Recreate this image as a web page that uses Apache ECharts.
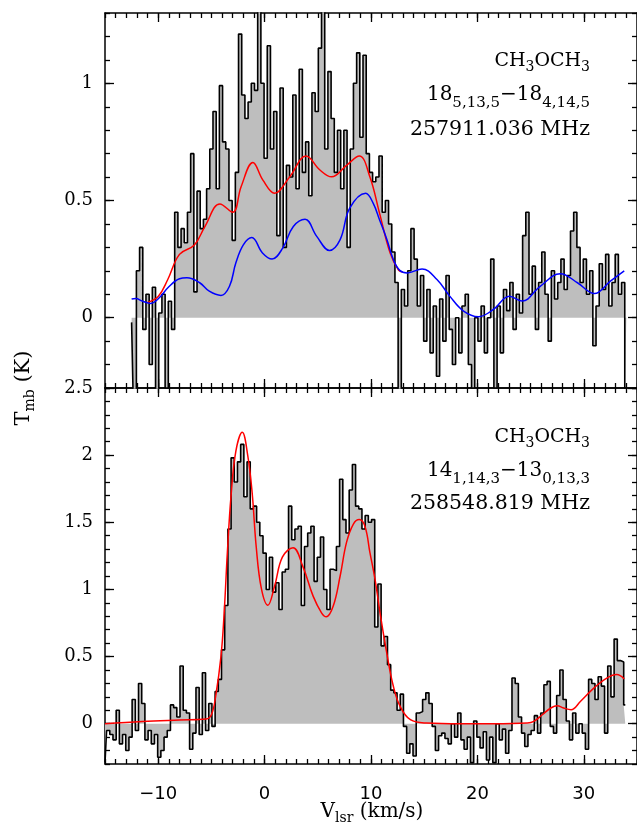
<!DOCTYPE html>
<html><head><meta charset="utf-8">
<script src="https://cdn.jsdelivr.net/npm/echarts@6/dist/echarts.min.js"></script>
<style>html,body{margin:0;padding:0;background:#fff}#c{width:637px;height:823px}</style>
</head><body><div id="c"></div>
<script>
// ---- tick labels ----
const xTickLabels = [-10, 0, 10, 20, 30];
const topYTickLabels = [0, 0.5, 1];
const botYTickLabels = [0, 0.5, 1, 1.5, 2, 2.5];

// ---- channel grid of the spectra (km/s) ----
const topV0 = -12.5;
const botV0 = -15.0;
const chanWidth = 0.3;

// ---- top spectrum: CH3OCH3 18(5,13,5)-18(4,14,5), Tmb (K) ----
const topSpec = [
 -0.02,-0.35,0.20,0.30,-0.05,0.10,-0.20,0.13,-0.32,0.02,
 0.10,-0.30,0.07,-0.05,0.45,0.30,0.38,0.32,0.45,0.70,
 0.11,0.54,0.38,0.42,0.55,0.72,0.88,0.55,0.99,0.75,
 0.72,0.50,0.33,0.62,1.21,0.95,0.85,0.92,1.00,0.97,
 1.35,1.00,0.68,1.16,0.72,0.88,0.35,0.98,0.30,0.65,
 0.60,0.95,0.55,1.06,0.62,0.75,0.52,0.96,0.88,1.15,
 1.35,0.72,1.05,0.85,0.62,0.80,0.55,0.80,0.30,0.72,
 1.00,1.13,0.77,1.12,0.70,0.62,0.58,0.60,0.69,0.45,
 0.50,0.40,0.28,0.15,-0.35,0.12,0.05,0.20,0.38,0.25,
 0.05,0.18,-0.10,0.12,-0.15,0.05,-0.25,0.08,-0.10,0.18,
 -0.05,-0.20,0.00,-0.15,0.05,0.10,-0.20,-0.30,0.00,-0.10,
 0.05,-0.15,0.00,0.25,-0.30,0.05,-0.15,0.12,0.03,0.15,
 -0.05,0.10,0.02,0.35,0.45,0.10,0.22,-0.05,0.15,0.28,
 0.10,-0.10,0.20,0.08,0.15,0.25,0.12,0.18,0.37,0.45,
 0.30,0.15,0.25,0.10,0.20,-0.12,0.05,0.23,0.12,0.27,
 0.05,0.15,0.27,0.10,0.15,-0.32
];

// ---- bottom spectrum: CH3OCH3 14(1,14,3)-13(0,13,3), Tmb (K) ----
const botSpec = [
 -0.29,-0.05,-0.08,-0.12,0.10,-0.15,-0.08,-0.20,-0.10,0.18,
 -0.05,0.30,0.15,-0.12,-0.05,-0.15,-0.08,-0.25,-0.20,-0.10,
 -0.05,0.14,0.12,0.05,0.43,0.10,0.08,-0.19,-0.07,0.27,
 -0.08,0.38,-0.05,0.15,-0.02,0.24,0.33,0.55,0.88,1.45,
 1.98,1.80,1.95,2.08,1.69,1.95,1.60,1.62,1.50,1.40,
 1.27,1.00,1.24,0.98,1.05,0.85,1.13,1.15,1.62,1.37,
 1.45,1.47,0.88,1.32,1.42,1.47,1.06,1.24,1.39,1.00,
 0.85,1.15,1.14,1.32,1.82,1.52,1.42,1.74,1.93,1.62,
 1.60,1.45,1.55,1.50,1.52,0.72,1.04,0.58,0.65,0.44,
 0.25,0.23,0.10,0.22,-0.02,-0.22,-0.15,-0.24,0.08,0.09,
 0.18,0.23,0.15,-0.02,-0.20,-0.09,-0.07,-0.11,-0.15,0.00,
 -0.10,0.08,-0.12,-0.19,-0.10,-0.29,0.02,-0.10,-0.18,-0.06,
 -0.27,-0.10,-0.29,0.00,-0.12,-0.04,-0.22,-0.05,0.34,0.30,
 0.05,-0.07,-0.17,-0.08,-0.05,0.06,-0.07,0.08,0.29,0.315,
 -0.02,-0.07,0.21,0.40,0.18,0.02,-0.12,0.08,-0.07,0.00,
 -0.07,-0.19,0.33,0.30,0.18,0.35,0.28,-0.07,0.43,0.20,
 0.63,0.47,0.46,0.14
];

// ---- model curves (velocity km/s, Tmb K) ----
const topBlueV = [-12.5,-12.1,-11.5,-10.7,-9.9,-9.0,-8.0,-7.3,-6.1,-5.2,-4.1,-3.3,-2.7,-2.0,-1.2,-0.2,0.7,1.7,2.7,3.8,4.9,6.1,7.1,8.0,9.5,10.2,10.8,11.5,12.1,12.7,13.4,14.8,16.2,17.4,18.7,20.1,21.5,23.0,24.2,25.9,27.8,29.4,31.0,32.5,33.8];
const topBlueT = [0.080,0.082,0.071,0.061,0.085,0.132,0.166,0.170,0.149,0.113,0.095,0.134,0.234,0.311,0.342,0.276,0.250,0.297,0.389,0.420,0.347,0.287,0.333,0.467,0.531,0.489,0.418,0.333,0.248,0.202,0.191,0.208,0.163,0.092,0.028,0.004,0.035,0.092,0.071,0.134,0.188,0.149,0.103,0.156,0.200];

const topRedV = [-11.0,-10.0,-9.1,-8.0,-6.6,-5.6,-4.2,-3.0,-2.2,-1.1,-0.16,0.94,2.35,3.9,5.2,6.3,7.7,8.9,9.9,10.8,11.8,12.6,13.0];
const topRedT = [0.065,0.090,0.163,0.270,0.310,0.390,0.485,0.450,0.560,0.662,0.587,0.531,0.600,0.690,0.630,0.601,0.650,0.690,0.600,0.446,0.276,0.202,0.195];

const botRedV = [-15.0,-11.5,-8.0,-5.5,-5.0,-4.6,-4.1,-3.8,-3.5,-3.15,-2.7,-2.1,-1.58,-1.17,-0.79,-0.31,0.31,0.94,1.67,2.67,3.6,4.56,5.35,5.8,6.45,7.1,7.7,8.33,8.9,9.43,9.9,10.38,10.85,11.48,12.1,12.74,13.7,15.2,18.4,21.5,24.7,25.3,26.1,26.9,27.5,28.1,28.8,29.7,30.97,32.2,33.1,33.8];
const botRedT = [0.0,0.017,0.028,0.035,0.067,0.204,0.502,0.826,1.274,1.70,2.03,2.17,1.995,1.72,1.32,1.01,0.883,1.025,1.24,1.31,1.17,0.95,0.826,0.796,0.876,1.10,1.35,1.485,1.52,1.47,1.274,1.075,0.826,0.527,0.279,0.129,0.03,0.005,0.0,0.0,0.005,0.017,0.067,0.117,0.134,0.117,0.104,0.167,0.267,0.341,0.366,0.333];

// ---- build ----
const spec = (v0, arr) => arr.map((t, i) => [+(v0 + i * chanWidth).toFixed(3), t]);
const pairs = (vs, ts) => vs.map((v, i) => [v, ts[i]]);

const X_MIN = -15, X_MAX = 35;
const yRanges = [[-0.3, 1.3], [-0.3, 2.5]];
const BLACK = '#000';
const minusFmt = v => (v < 0 ? '\u2212' + (-v) : String(v));
const LINE = { show: true, onZero: false, lineStyle: { color: BLACK, width: 1.5 } };
const NOLINE = { show: false, onZero: false };
const minorTick = { show: true, inside: true, length: 5, lineStyle: { color: BLACK, width: 1.3 } };
const majorTick = (vals) => ({ show: true, inside: true, length: 9, customValues: vals, lineStyle: { color: BLACK, width: 1.3 } });

const xAxes = [], yAxes = [];
// main axes first (series axes): x0, x1 / y0, y1
for (let g = 0; g < 2; g++) {
  xAxes.push({
    type: 'value', gridIndex: g, position: 'bottom', min: X_MIN, max: X_MAX, interval: 1,
    axisLine: LINE, axisTick: minorTick,
    axisLabel: g === 1 ? { show: true, customValues: xTickLabels, formatter: minusFmt, color: BLACK,
      fontFamily: 'DejaVu Sans', fontSize: 18, margin: 21 } : { show: false },
    splitLine: { show: false }
  });
}
for (let g = 0; g < 2; g++) {
  yAxes.push({
    type: 'value', gridIndex: g, position: 'left', min: yRanges[g][0], max: yRanges[g][1], interval: 0.1,
    axisLine: LINE, axisTick: minorTick,
    axisLabel: { show: true, customValues: g === 0 ? topYTickLabels : botYTickLabels, color: BLACK,
      fontFamily: 'DejaVu Serif', fontSize: 18, margin: 12, formatter: v => String(v) },
    splitLine: { show: false }
  });
}
// overlay axes: major ticks and opposite sides
for (let g = 0; g < 2; g++) {
  ['bottom', 'top'].forEach(pos => {
    if (pos === 'top') {
      xAxes.push({ type: 'value', gridIndex: g, position: 'top', min: X_MIN, max: X_MAX, interval: 1,
        axisLine: LINE, axisTick: minorTick, axisLabel: { show: false }, splitLine: { show: false } });
    }
    xAxes.push({ type: 'value', gridIndex: g, position: pos, min: X_MIN, max: X_MAX,
      axisLine: NOLINE, axisTick: majorTick(xTickLabels), axisLabel: { show: false }, splitLine: { show: false } });
  });
  const majors = g === 0 ? topYTickLabels : botYTickLabels;
  ['left', 'right'].forEach(pos => {
    if (pos === 'right') {
      yAxes.push({ type: 'value', gridIndex: g, position: 'right', min: yRanges[g][0], max: yRanges[g][1], interval: 0.1,
        axisLine: LINE, axisTick: minorTick, axisLabel: { show: false }, splitLine: { show: false } });
    }
    yAxes.push({ type: 'value', gridIndex: g, position: pos, min: yRanges[g][0], max: yRanges[g][1],
      axisLine: NOLINE, axisTick: majorTick(majors), axisLabel: { show: false }, splitLine: { show: false } });
  });
}

const SERIF = 'DejaVu Serif';
const rich = (fs, subFs, subPad) => ({
  n: { fontFamily: SERIF, fontSize: fs, lineHeight: 28, color: BLACK },
  s: { fontFamily: SERIF, fontSize: subFs, lineHeight: 28, color: BLACK, padding: [subPad, 0, 0, 0] }
});
const label = (x, y, text, fs, subFs, subPad) => ({
  type: 'text', x, y, z: 100,
  style: { text, rich: rich(fs, subFs, subPad), align: 'right', verticalAlign: 'middle', fill: BLACK }
});
const titleRich = (fs) => ({
  n: { fontFamily: SERIF, fontSize: fs, lineHeight: 26, color: BLACK },
  s: { fontFamily: SERIF, fontSize: 14, lineHeight: 26, color: BLACK, padding: [13, 0, 0, 0] }
});

const option = {
  animation: false,
  backgroundColor: '#fff',
  grid: [
    { left: 105, right: 0, top: 13, height: 375 },
    { left: 105, right: 0, top: 388, height: 376 }
  ],
  xAxis: xAxes,
  yAxis: yAxes,
  series: [
    { type: 'line', xAxisIndex: 0, yAxisIndex: 0, step: 'middle', symbol: 'none', data: spec(topV0, topSpec),
      lineStyle: { color: BLACK, width: 1.6 }, areaStyle: { color: '#bebebe', opacity: 1 }, z: 2 },
    { type: 'line', xAxisIndex: 0, yAxisIndex: 0, smooth: 0.4, symbol: 'none', data: pairs(topRedV, topRedT),
      lineStyle: { color: '#ff0000', width: 1.5 }, z: 3 },
    { type: 'line', xAxisIndex: 0, yAxisIndex: 0, smooth: 0.4, symbol: 'none', data: pairs(topBlueV, topBlueT),
      lineStyle: { color: '#0000ff', width: 1.5 }, z: 4 },
    { type: 'line', xAxisIndex: 1, yAxisIndex: 1, step: 'middle', symbol: 'none', data: spec(botV0, botSpec),
      lineStyle: { color: BLACK, width: 1.6 }, areaStyle: { color: '#bebebe', opacity: 1 }, z: 2 },
    { type: 'line', xAxisIndex: 1, yAxisIndex: 1, smooth: 0.4, symbol: 'none', data: pairs(botRedV, botRedT),
      lineStyle: { color: '#ff0000', width: 1.5 }, z: 3 }
  ],
  graphic: [
    label(590, 61, '{n|CH}{s|3}{n|OCH}{s|3}', 19, 14, 12),
    label(590, 95, '{n|18}{s|5,13,5}{n|\u221218}{s|4,14,5}', 20, 15, 16),
    label(590, 130, '{n|257911.036 MHz}', 20.5, 14, 0),
    label(590, 437, '{n|CH}{s|3}{n|OCH}{s|3}', 19, 14, 12),
    label(590, 471, '{n|14}{s|1,14,3}{n|\u221213}{s|0,13,3}', 20, 15, 16),
    label(590, 504, '{n|258548.819 MHz}', 20.5, 14, 0),
    { type: 'text', x: 372, y: 812, z: 100,
      style: { text: '{n|V}{s|lsr}{n| (km/s)}', rich: titleRich(20), align: 'center', verticalAlign: 'middle', fill: BLACK } },
    { type: 'text', x: 24, y: 388, rotation: Math.PI / 2, z: 100,
      style: { text: '{n|T}{s|mb}{n| (K)}', rich: titleRich(21), align: 'center', verticalAlign: 'middle', fill: BLACK } }
  ]
};

const chart = echarts.init(document.getElementById('c'), null, { renderer: 'canvas' });
chart.setOption(option);
</script>
</body></html>
